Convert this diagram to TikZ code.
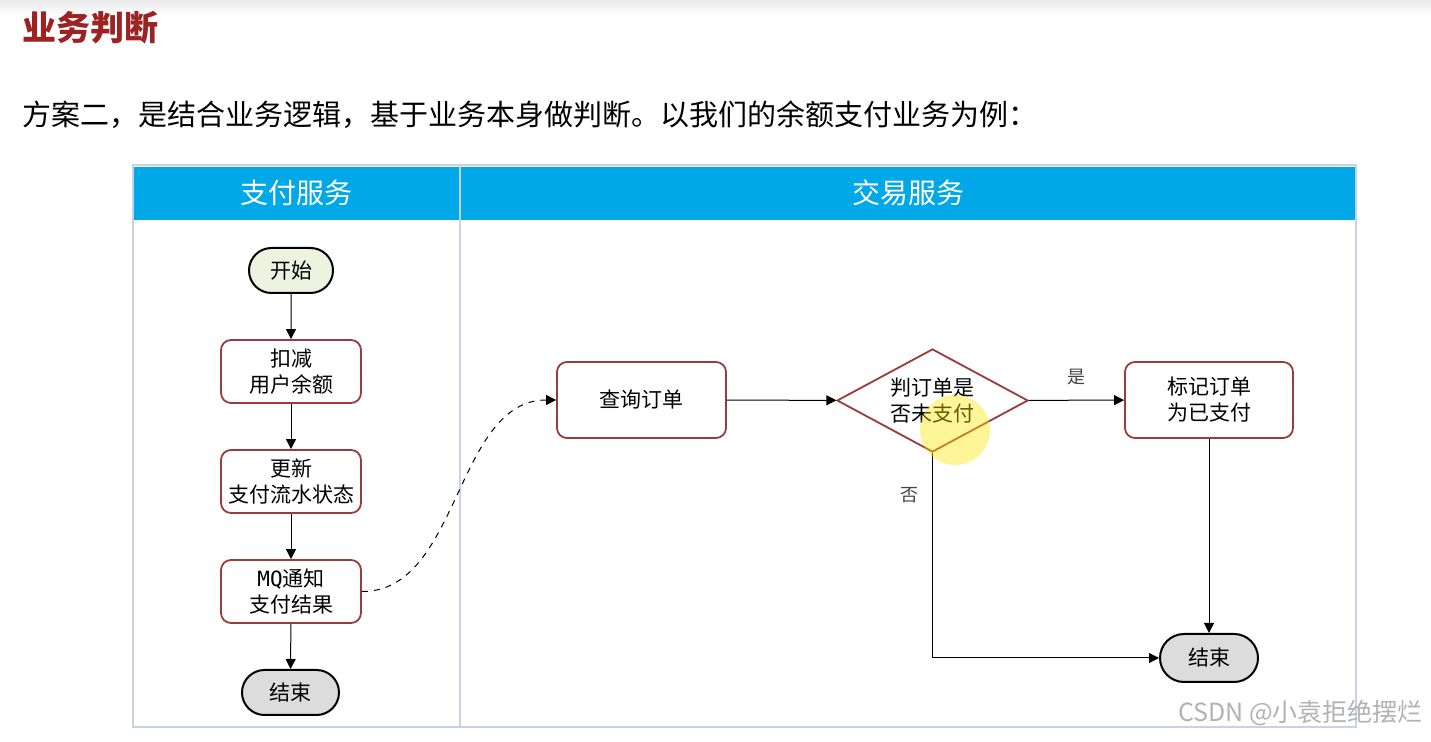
\documentclass[tikz,border=0pt]{standalone}
\usepackage{fontspec}
\setmainfont{Noto Sans CJK SC}
\setmonofont{DejaVu Sans Mono}
\usetikzlibrary{shapes.geometric,shapes.misc,arrows.meta}
\definecolor{titlered}{HTML}{9B2323}
\definecolor{laneblue}{HTML}{00A8E8}
\definecolor{laneborder}{HTML}{C5D3E6}
\definecolor{boxred}{HTML}{9B3B3B}
\definecolor{startfill}{HTML}{EEF2E1}
\definecolor{endfill}{HTML}{DCDCDC}
\definecolor{labelgray}{HTML}{444444}
\tikzset{
  proc/.style={draw=boxred, line width=0.9pt, fill=white, rounded corners=5pt,
    minimum width=70pt, minimum height=31.5pt, align=center, inner sep=0pt,
    font=\fontsize{10.5}{13}\selectfont},
  term/.style={rounded rectangle, draw=black, line width=1pt, minimum width=42pt,
    minimum height=22.5pt, inner sep=0pt, font=\fontsize{10.5}{13}\selectfont},
  dec/.style={diamond, draw=boxred, line width=0.9pt, fill=white, aspect=1.85,
    minimum width=95.5pt, minimum height=51.5pt, inner sep=0pt, align=center,
    font=\fontsize{10.5}{13}\selectfont},
  arr/.style={-{Triangle[length=5pt,width=5pt]}, line width=0.5pt},
  lanehead/.style={text=white, font=\fontsize{14}{16}\selectfont},
  edgelabel/.style={text=labelgray, font=\fontsize{9}{11}\selectfont}
}
\begin{document}
\begin{tikzpicture}[x=0.5pt,y=-0.5pt]
\useasboundingbox (0,0) rectangle (1431,742);
\fill[white] (0,0) rectangle (1431,742);
\shade[top color=black!8, bottom color=white] (0,0) rectangle (1431,16);

% title and intro
\node[anchor=west, text=titlered, font=\bfseries\fontsize{17}{20}\selectfont] (title) at (15,28) {业务判断};
\node[anchor=west, font=\fontsize{14.5}{17}\selectfont] (intro) at (15,115) {方案二，是结合业务逻辑，基于业务本身做判断。以我们的余额支付业务为例：};

% swimlanes
\fill[laneblue] (134,167) rectangle (1355,220);
\draw[laneborder, line width=1pt] (133,165) rectangle (1356,727);
\draw[laneborder, line width=1pt] (459.5,165) -- (459.5,727);
\node[lanehead] (lane1) at (296,193) {支付服务};
\node[lanehead] (lane2) at (908,193) {交易服务};

% left lane
\node[term, fill=startfill] (start) at (291,270.5) {开始};
\node[proc] (deduct) at (291,371.5) {扣减\\用户余额};
\node[proc] (update) at (291,481.5) {更新\\支付流水状态};
\node[proc] (mq) at (291,591.5) {{\ttfamily MQ}通知\\支付结果};
\node[term, fill=endfill, minimum width=48.5pt] (end1) at (290.5,692.5) {结束};

% right lane
\node[proc, minimum width=84.5pt, minimum height=38pt] (query) at (641.5,400) {查询订单};
\node[dec] (judge) at (932.5,400.5) {判订单是\\否未支付};
\node[proc, minimum width=84pt, minimum height=38pt] (mark) at (1209,400) {标记订单\\为已支付};
\node[term, fill=endfill, minimum width=49pt, minimum height=24pt] (end2) at (1209,658) {结束};

% connectors
\draw[arr] (start) -- (deduct);
\draw[arr] (deduct) -- (update);
\draw[arr] (update) -- (mq);
\draw[arr] (mq) -- (end1);
\draw[arr, dashed] (mq.east) .. controls (460,592) and (455,400) .. (query.west);
\draw[arr] (query) -- (judge);
\draw[arr] (judge) -- node[edgelabel, above=4pt] {是} (mark);
\draw[arr] (mark) -- (end2);
\draw[arr] (judge.south) |- (end2.west);
\node[edgelabel] (no) at (909,495) {否};

% highlight (cursor spot)
\fill[yellow!90!orange, opacity=0.4] (955,430) circle (35);

% watermark
\node[anchor=east, text=black!30, font=\fontsize{12.5}{15}\selectfont] (wm) at (1430,713) {CSDN @小袁拒绝摆烂};
\end{tikzpicture}
\end{document}
